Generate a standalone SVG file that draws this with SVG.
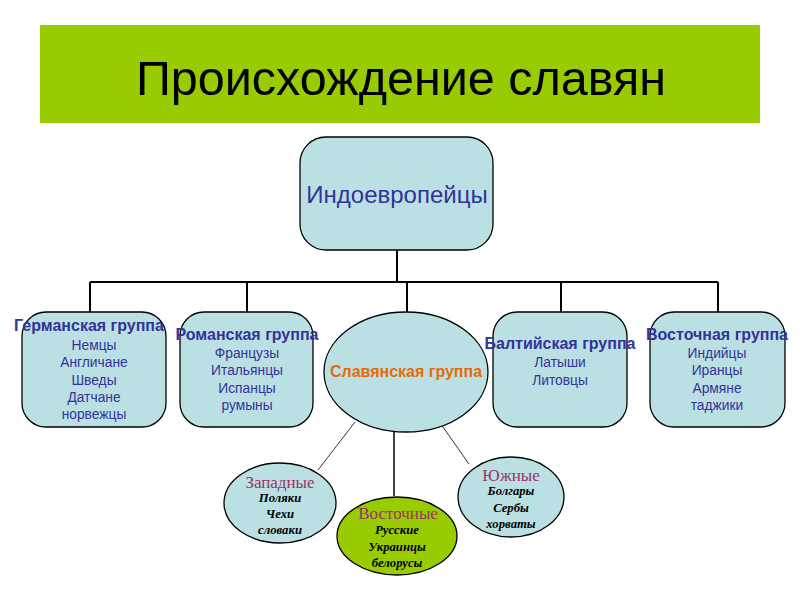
<svg xmlns="http://www.w3.org/2000/svg" width="800" height="600" viewBox="0 0 800 600">
<style>
.box{fill:#BBE0E3;stroke:#000;stroke-width:1.3}
.hd{font-family:"Liberation Sans",Arial,sans-serif;font-weight:bold;font-size:16px;fill:#333399;text-anchor:middle}
.it{font-family:"Liberation Sans",Arial,sans-serif;font-size:13.8px;fill:#333399;text-anchor:middle}
.sub{font-family:"Liberation Serif","Times New Roman",serif;font-size:17px;fill:#993366;text-anchor:middle}
.si{font-family:"Liberation Serif","Times New Roman",serif;font-size:12.7px;font-weight:bold;font-style:italic;fill:#000;text-anchor:middle}
.c{fill:none;stroke:#000;stroke-width:2}
.t{fill:none;stroke:#000;stroke-width:0.8}
</style>
<rect width="800" height="600" fill="#fff"/>
<g id="title">
<rect x="40" y="25" width="720" height="98" fill="#99CC00"/>
<text x="401" y="95" font-family="Liberation Sans,Arial,sans-serif" font-size="48.5" text-anchor="middle" fill="#000">Происхождение славян</text>
</g>
<g id="connectors">
<polyline class="c" points="397,250 397,282"/>
<polyline class="c" points="90,282 718,282"/>
<line class="c" x1="90" y1="282" x2="90" y2="312"/>
<line class="c" x1="247" y1="282" x2="247" y2="312"/>
<line class="c" x1="407" y1="282" x2="407" y2="312"/>
<line class="c" x1="561" y1="282" x2="561" y2="312"/>
<line class="c" x1="718" y1="282" x2="718" y2="312"/>
<line class="t" x1="355" y1="422" x2="318" y2="470"/>
<line x1="394" y1="426" x2="394" y2="496" stroke="#000" stroke-width="1.5"/>
<line x1="393" y1="426" x2="400" y2="426" stroke="#000" stroke-width="1.5"/>
<line class="t" x1="438" y1="420" x2="469" y2="464"/>
</g>
<g id="indo">
<rect class="box" x="300" y="137" width="193" height="113" rx="26"/>
<text x="397" y="203" font-family="Liberation Sans,Arial,sans-serif" font-size="24" fill="#333399" text-anchor="middle">Индоевропейцы</text>
</g>
<g id="german">
<rect class="box" x="22" y="312" width="144" height="115" rx="24"/>
<text class="hd" x="89" y="331">Германская группа</text>
<text class="it" x="94" y="350">Немцы</text>
<text class="it" x="94" y="367">Англичане</text>
<text class="it" x="94" y="385">Шведы</text>
<text class="it" x="94" y="402">Датчане</text>
<text class="it" x="94" y="419">норвежцы</text>
</g>
<g id="roman">
<rect class="box" x="180" y="312" width="133" height="115" rx="24"/>
<text class="hd" x="247" y="340">Романская группа</text>
<text class="it" x="247" y="358">Французы</text>
<text class="it" x="247" y="375">Итальянцы</text>
<text class="it" x="247" y="393">Испанцы</text>
<text class="it" x="247" y="410">румыны</text>
</g>
<g id="slavic">
<ellipse class="box" cx="406" cy="372" rx="82" ry="60"/>
<text class="hd" x="406" y="377" style="fill:#E46C0A">Славянская группа</text>
</g>
<g id="baltic">
<rect class="box" x="493" y="312" width="134" height="115" rx="24"/>
<text class="hd" x="560" y="349">Балтийская группа</text>
<text class="it" x="560" y="367">Латыши</text>
<text class="it" x="560" y="385">Литовцы</text>
</g>
<g id="eastern">
<rect class="box" x="650" y="312" width="135" height="115" rx="24"/>
<text class="hd" x="717" y="340">Восточная группа</text>
<text class="it" x="717" y="358">Индийцы</text>
<text class="it" x="717" y="375">Иранцы</text>
<text class="it" x="717" y="393">Армяне</text>
<text class="it" x="717" y="410">таджики</text>
</g>
<g id="west">
<ellipse class="box" cx="280" cy="503" rx="56" ry="40"/>
<text class="sub" x="280" y="488">Западные</text>
<text class="si" x="280" y="502">Поляки</text>
<text class="si" x="280" y="518">Чехи</text>
<text class="si" x="280" y="534">словаки</text>
</g>
<g id="east">
<ellipse cx="397" cy="536" rx="60" ry="39" fill="#99CC00" stroke="#000" stroke-width="1.3"/>
<text class="sub" x="398" y="519">Восточные</text>
<text class="si" x="397" y="534">Русские</text>
<text class="si" x="397" y="551">Украинцы</text>
<text class="si" x="397" y="567">белорусы</text>
</g>
<g id="south">
<ellipse class="box" cx="511" cy="497" rx="53" ry="40"/>
<text class="sub" x="511" y="481">Южные</text>
<text class="si" x="511" y="495">Болгары</text>
<text class="si" x="511" y="512">Сербы</text>
<text class="si" x="511" y="528">хорваты</text>
</g>
</svg>
